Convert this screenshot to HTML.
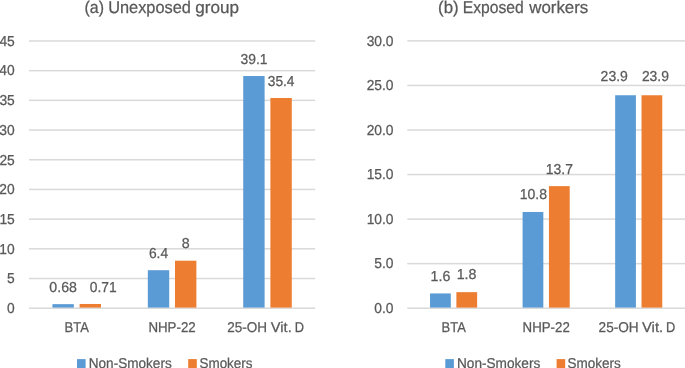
<!DOCTYPE html>
<html><head><meta charset="utf-8"><style>
html,body{margin:0;padding:0;background:#fff;}
body{width:685px;height:368px;overflow:hidden;}
svg{display:block;will-change:transform;text-rendering:geometricPrecision;font-family:"Liberation Sans", sans-serif;}
</style></head><body>
<svg width="685" height="368" viewBox="0 0 685 368">
<rect width="685" height="368" fill="#fff"/>
<rect x="29.00" y="307.45" width="286.20" height="1.5" fill="#D9D9D9"/>
<rect x="29.00" y="277.76" width="286.20" height="1.5" fill="#D9D9D9"/>
<rect x="29.00" y="248.07" width="286.20" height="1.5" fill="#D9D9D9"/>
<rect x="29.00" y="218.38" width="286.20" height="1.5" fill="#D9D9D9"/>
<rect x="29.00" y="188.69" width="286.20" height="1.5" fill="#D9D9D9"/>
<rect x="29.00" y="159.00" width="286.20" height="1.5" fill="#D9D9D9"/>
<rect x="29.00" y="129.31" width="286.20" height="1.5" fill="#D9D9D9"/>
<rect x="29.00" y="99.62" width="286.20" height="1.5" fill="#D9D9D9"/>
<rect x="29.00" y="69.93" width="286.20" height="1.5" fill="#D9D9D9"/>
<rect x="29.00" y="40.24" width="286.20" height="1.5" fill="#D9D9D9"/>
<text x="7.05" y="312.95" font-size="14.4" textLength="7.69" lengthAdjust="spacingAndGlyphs" fill="#595959" stroke="#595959" stroke-width="0.25">0</text>
<text x="7.09" y="283.26" font-size="14.4" textLength="7.69" lengthAdjust="spacingAndGlyphs" fill="#595959" stroke="#595959" stroke-width="0.25">5</text>
<text x="-0.64" y="253.57" font-size="14.4" textLength="15.38" lengthAdjust="spacingAndGlyphs" fill="#595959" stroke="#595959" stroke-width="0.25">10</text>
<text x="-0.60" y="223.88" font-size="14.4" textLength="15.38" lengthAdjust="spacingAndGlyphs" fill="#595959" stroke="#595959" stroke-width="0.25">15</text>
<text x="-0.64" y="194.19" font-size="14.4" textLength="15.38" lengthAdjust="spacingAndGlyphs" fill="#595959" stroke="#595959" stroke-width="0.25">20</text>
<text x="-0.60" y="164.50" font-size="14.4" textLength="15.38" lengthAdjust="spacingAndGlyphs" fill="#595959" stroke="#595959" stroke-width="0.25">25</text>
<text x="-0.64" y="134.81" font-size="14.4" textLength="15.38" lengthAdjust="spacingAndGlyphs" fill="#595959" stroke="#595959" stroke-width="0.25">30</text>
<text x="-0.60" y="105.12" font-size="14.4" textLength="15.38" lengthAdjust="spacingAndGlyphs" fill="#595959" stroke="#595959" stroke-width="0.25">35</text>
<text x="-0.64" y="75.43" font-size="14.4" textLength="15.38" lengthAdjust="spacingAndGlyphs" fill="#595959" stroke="#595959" stroke-width="0.25">40</text>
<text x="-0.60" y="45.74" font-size="14.4" textLength="15.38" lengthAdjust="spacingAndGlyphs" fill="#595959" stroke="#595959" stroke-width="0.25">45</text>
<rect x="52.42" y="304.16" width="21.39" height="3.44" fill="#5B9BD5"/>
<rect x="79.59" y="303.98" width="21.39" height="3.62" fill="#ED7D31"/>
<rect x="147.82" y="270.20" width="21.39" height="37.40" fill="#5B9BD5"/>
<rect x="174.99" y="260.70" width="21.39" height="46.90" fill="#ED7D31"/>
<rect x="243.22" y="76.02" width="21.39" height="231.58" fill="#5B9BD5"/>
<rect x="270.39" y="97.99" width="21.39" height="209.61" fill="#ED7D31"/>
<text x="64.57" y="332.30" font-size="14.2" textLength="24.35" lengthAdjust="spacingAndGlyphs" fill="#595959" stroke="#595959" stroke-width="0.25">BTA</text>
<text x="148.41" y="332.30" font-size="14.2" textLength="47.26" lengthAdjust="spacingAndGlyphs" fill="#595959" stroke="#595959" stroke-width="0.25">NHP-22</text>
<text x="227.22" y="332.30" font-size="14.2" textLength="39.78" lengthAdjust="spacingAndGlyphs" fill="#595959" stroke="#595959" stroke-width="0.25">25-OH</text>
<text x="270.74" y="332.30" font-size="14.2" textLength="20.99" lengthAdjust="spacingAndGlyphs" fill="#595959" stroke="#595959" stroke-width="0.25">Vit.</text>
<text x="294.85" y="332.30" font-size="14.2" textLength="9.27" lengthAdjust="spacingAndGlyphs" fill="#595959" stroke="#595959" stroke-width="0.25">D</text>
<rect x="77.00" y="359.10" width="8.60" height="9.90" fill="#5B9BD5"/>
<text x="88.79" y="367.70" font-size="14.2" textLength="82.90" lengthAdjust="spacingAndGlyphs" fill="#595959" stroke="#595959" stroke-width="0.25">Non-Smokers</text>
<rect x="188.20" y="359.10" width="8.60" height="9.90" fill="#ED7D31"/>
<text x="199.49" y="367.70" font-size="14.2" textLength="53.00" lengthAdjust="spacingAndGlyphs" fill="#595959" stroke="#595959" stroke-width="0.25">Smokers</text>
<text x="84.51" y="12.60" font-size="17.0" textLength="19.48" lengthAdjust="spacingAndGlyphs" fill="#595959" stroke="#595959" stroke-width="0.25">(a)</text>
<text x="108.14" y="12.60" font-size="17.0" textLength="82.82" lengthAdjust="spacingAndGlyphs" fill="#595959" stroke="#595959" stroke-width="0.25">Unexposed</text>
<text x="195.18" y="12.60" font-size="17.0" textLength="43.74" lengthAdjust="spacingAndGlyphs" fill="#595959" stroke="#595959" stroke-width="0.25">group</text>
<text x="49.35" y="292.00" font-size="14.4" textLength="27.57" lengthAdjust="spacingAndGlyphs" fill="#595959" stroke="#595959" stroke-width="0.25">0.68</text>
<text x="89.76" y="292.00" font-size="14.4" textLength="26.92" lengthAdjust="spacingAndGlyphs" fill="#595959" stroke="#595959" stroke-width="0.25">0.71</text>
<text x="148.90" y="257.60" font-size="14.4" textLength="19.21" lengthAdjust="spacingAndGlyphs" fill="#595959" stroke="#595959" stroke-width="0.25">6.4</text>
<text x="181.78" y="248.20" font-size="14.4" textLength="7.94" lengthAdjust="spacingAndGlyphs" fill="#595959" stroke="#595959" stroke-width="0.25">8</text>
<text x="240.57" y="63.80" font-size="14.4" textLength="27.01" lengthAdjust="spacingAndGlyphs" fill="#595959" stroke="#595959" stroke-width="0.25">39.1</text>
<text x="267.78" y="85.60" font-size="14.4" textLength="26.73" lengthAdjust="spacingAndGlyphs" fill="#595959" stroke="#595959" stroke-width="0.25">35.4</text>
<rect x="407.30" y="307.45" width="277.70" height="1.5" fill="#D9D9D9"/>
<rect x="407.30" y="262.90" width="277.70" height="1.5" fill="#D9D9D9"/>
<rect x="407.30" y="218.35" width="277.70" height="1.5" fill="#D9D9D9"/>
<rect x="407.30" y="173.80" width="277.70" height="1.5" fill="#D9D9D9"/>
<rect x="407.30" y="129.25" width="277.70" height="1.5" fill="#D9D9D9"/>
<rect x="407.30" y="84.70" width="277.70" height="1.5" fill="#D9D9D9"/>
<rect x="407.30" y="40.15" width="277.70" height="1.5" fill="#D9D9D9"/>
<text x="374.32" y="312.95" font-size="14.4" textLength="19.22" lengthAdjust="spacingAndGlyphs" fill="#595959" stroke="#595959" stroke-width="0.25">0.0</text>
<text x="374.32" y="268.40" font-size="14.4" textLength="19.22" lengthAdjust="spacingAndGlyphs" fill="#595959" stroke="#595959" stroke-width="0.25">5.0</text>
<text x="366.63" y="223.85" font-size="14.4" textLength="26.91" lengthAdjust="spacingAndGlyphs" fill="#595959" stroke="#595959" stroke-width="0.25">10.0</text>
<text x="366.63" y="179.30" font-size="14.4" textLength="26.91" lengthAdjust="spacingAndGlyphs" fill="#595959" stroke="#595959" stroke-width="0.25">15.0</text>
<text x="366.63" y="134.75" font-size="14.4" textLength="26.91" lengthAdjust="spacingAndGlyphs" fill="#595959" stroke="#595959" stroke-width="0.25">20.0</text>
<text x="366.63" y="90.20" font-size="14.4" textLength="26.91" lengthAdjust="spacingAndGlyphs" fill="#595959" stroke="#595959" stroke-width="0.25">25.0</text>
<text x="366.63" y="45.65" font-size="14.4" textLength="26.91" lengthAdjust="spacingAndGlyphs" fill="#595959" stroke="#595959" stroke-width="0.25">30.0</text>
<rect x="430.03" y="293.45" width="20.75" height="14.15" fill="#5B9BD5"/>
<rect x="456.39" y="292.16" width="20.75" height="15.44" fill="#ED7D31"/>
<rect x="522.59" y="211.97" width="20.75" height="95.63" fill="#5B9BD5"/>
<rect x="548.95" y="186.13" width="20.75" height="121.47" fill="#ED7D31"/>
<rect x="615.16" y="95.25" width="20.75" height="212.35" fill="#5B9BD5"/>
<rect x="641.52" y="95.25" width="20.75" height="212.35" fill="#ED7D31"/>
<text x="441.58" y="332.30" font-size="14.2" textLength="24.25" lengthAdjust="spacingAndGlyphs" fill="#595959" stroke="#595959" stroke-width="0.25">BTA</text>
<text x="522.61" y="332.30" font-size="14.2" textLength="47.15" lengthAdjust="spacingAndGlyphs" fill="#595959" stroke="#595959" stroke-width="0.25">NHP-22</text>
<text x="598.62" y="332.30" font-size="14.2" textLength="40.09" lengthAdjust="spacingAndGlyphs" fill="#595959" stroke="#595959" stroke-width="0.25">25-OH</text>
<text x="641.94" y="332.30" font-size="14.2" textLength="21.20" lengthAdjust="spacingAndGlyphs" fill="#595959" stroke="#595959" stroke-width="0.25">Vit.</text>
<text x="666.05" y="332.30" font-size="14.2" textLength="9.27" lengthAdjust="spacingAndGlyphs" fill="#595959" stroke="#595959" stroke-width="0.25">D</text>
<rect x="445.30" y="359.10" width="8.60" height="9.90" fill="#5B9BD5"/>
<text x="456.98" y="367.70" font-size="14.2" textLength="83.31" lengthAdjust="spacingAndGlyphs" fill="#595959" stroke="#595959" stroke-width="0.25">Non-Smokers</text>
<rect x="556.60" y="359.10" width="8.60" height="9.90" fill="#ED7D31"/>
<text x="567.59" y="367.70" font-size="14.2" textLength="53.30" lengthAdjust="spacingAndGlyphs" fill="#595959" stroke="#595959" stroke-width="0.25">Smokers</text>
<text x="438.06" y="12.60" font-size="17.0" textLength="20.59" lengthAdjust="spacingAndGlyphs" fill="#595959" stroke="#595959" stroke-width="0.25">(b)</text>
<text x="462.81" y="12.60" font-size="17.0" textLength="61.00" lengthAdjust="spacingAndGlyphs" fill="#595959" stroke="#595959" stroke-width="0.25">Exposed</text>
<text x="529.22" y="12.60" font-size="17.0" textLength="59.09" lengthAdjust="spacingAndGlyphs" fill="#595959" stroke="#595959" stroke-width="0.25">workers</text>
<text x="430.61" y="281.10" font-size="14.4" textLength="19.81" lengthAdjust="spacingAndGlyphs" fill="#595959" stroke="#595959" stroke-width="0.25">1.6</text>
<text x="456.71" y="279.20" font-size="14.4" textLength="19.80" lengthAdjust="spacingAndGlyphs" fill="#595959" stroke="#595959" stroke-width="0.25">1.8</text>
<text x="519.63" y="199.20" font-size="14.4" textLength="27.38" lengthAdjust="spacingAndGlyphs" fill="#595959" stroke="#595959" stroke-width="0.25">10.8</text>
<text x="545.74" y="173.50" font-size="14.4" textLength="27.17" lengthAdjust="spacingAndGlyphs" fill="#595959" stroke="#595959" stroke-width="0.25">13.7</text>
<text x="600.60" y="80.80" font-size="14.4" textLength="27.27" lengthAdjust="spacingAndGlyphs" fill="#595959" stroke="#595959" stroke-width="0.25">23.9</text>
<text x="641.90" y="80.80" font-size="14.4" textLength="27.06" lengthAdjust="spacingAndGlyphs" fill="#595959" stroke="#595959" stroke-width="0.25">23.9</text>
</svg>
</body></html>
